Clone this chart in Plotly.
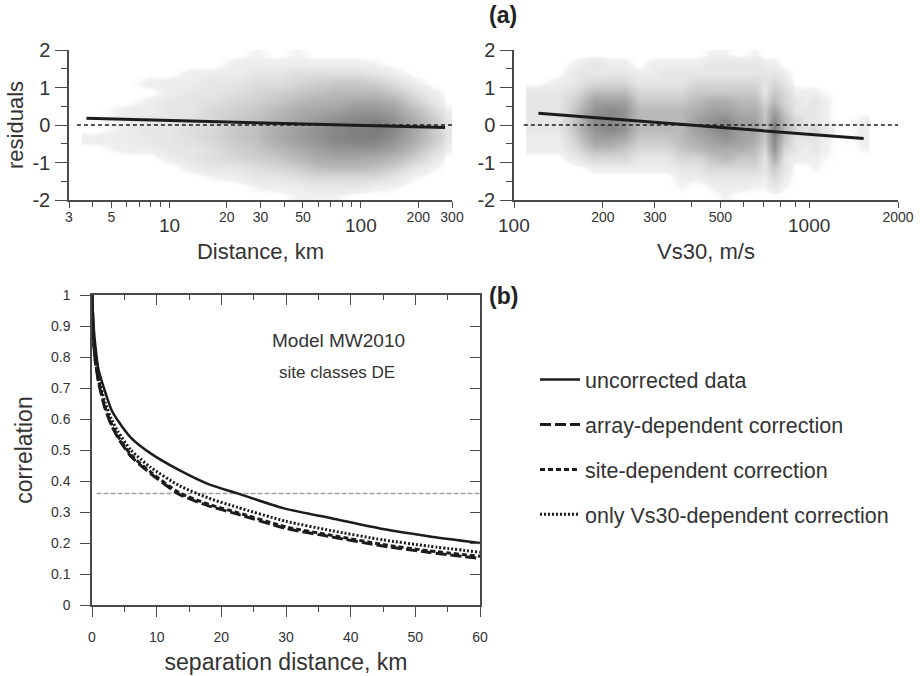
import plotly.graph_objects as go
import numpy as np

# ---------------- panel (a) data ----------------
dist_edges = [3.5, 5, 7, 9, 11.5, 15, 19.5, 25, 32, 41, 52, 66, 84, 107, 135, 170, 215, 265, 300]
resid_edges = [-2, -1.75, -1.5, -1.25, -1, -0.75, -0.5, -0.25, 0, 0.25, 0.5, 0.75, 1, 1.25, 1.5, 1.75, 2]
# estimated density of the residual crosses (rows: top y=+1.875 ... bottom y=-1.875)
dist_density = [
    [0, 0, 0, 0, 0, 0, 0, 0.3, 0, 0.3, 0, 0, 0, 0, 0, 0, 0, 0],
    [0, 0, 0, 0, 0, 0, 0.5, 0.5, 0.5, 0.5, 0.5, 0.5, 0.5, 0.3, 0, 0, 0, 0],
    [0, 0, 0, 0, 0.5, 0.5, 0.5, 1, 1, 1.5, 1.5, 1.5, 1.5, 1, 0.5, 0, 0, 0],
    [0, 0, 0.5, 0.5, 0.5, 1, 1, 1.5, 1.5, 2, 2.5, 3, 3, 2.5, 1.5, 0.5, 0, 0],
    [0, 0, 0, 0.5, 1, 1, 1.5, 2, 2.5, 3, 3.5, 4, 4, 4, 3, 1.5, 0.5, 0],
    [0, 0, 0.5, 1, 1, 1.5, 2, 2.5, 3, 4, 4.5, 5, 5.5, 5.5, 4.5, 2.5, 1, 0],
    [0, 0.5, 0.5, 1, 1, 2, 2.5, 3, 4, 5, 5.5, 6, 7, 7, 6, 4, 2, 0.5],
    [0, 0.5, 1, 1, 1.5, 2, 3, 3.5, 4.5, 5.5, 6.5, 7.5, 8, 8.5, 7, 5, 3, 1],
    [0, 0.5, 1, 1, 1.5, 2, 3, 3.5, 5, 6, 7, 8, 8.5, 9, 8, 5.5, 3, 1],
    [0.5, 0.5, 1, 1, 1.5, 2, 3, 3.5, 5, 6, 7, 8, 8.5, 8.5, 7, 5, 3, 1],
    [0, 0.5, 0.5, 1, 1, 1.5, 2.5, 3, 4, 5, 6, 7, 7, 7, 6, 4, 2, 0.5],
    [0, 0, 0, 0.5, 1, 1.5, 2, 2.5, 3, 4, 5, 5.5, 5.5, 5, 4, 2.5, 1, 0],
    [0, 0, 0, 0, 0.5, 1, 1, 1.5, 2, 2.5, 3.5, 4, 4, 3.5, 2.5, 1, 0.3, 0],
    [0, 0, 0, 0, 0, 0.3, 0.5, 1, 1, 1.5, 2, 2, 2, 2, 1, 0.3, 0, 0],
    [0, 0, 0, 0, 0, 0, 0, 0.3, 0.5, 0.5, 1, 1, 1, 0.5, 0.3, 0, 0, 0],
    [0, 0, 0, 0, 0, 0, 0, 0, 0, 0.3, 0.3, 0.3, 0, 0, 0, 0, 0, 0],
]
dist_fit_x = [3.7, 276]
dist_fit_y = [0.18, -0.07]
dist_zero_x = [3.3, 300]

vs_edges = [110, 130, 155, 175, 200, 225, 250, 280, 310, 350, 390, 440, 490, 550, 620, 680,
            730, 790, 860, 940, 1000, 1100, 1450, 1600]
vs_density = [
    [0, 0, 0, 0, 0, 0, 0, 0, 0, 0, 0, 0.3, 0.3, 0, 0.3, 0, 0, 0, 0, 0, 0, 0, 0],
    [0, 0, 0.5, 1, 0.5, 0.5, 0, 0.5, 0.5, 0.5, 0.5, 1, 1, 1, 1, 0.5, 0.5, 0, 0, 0, 0, 0, 0],
    [0, 0, 1, 1, 1, 1, 0.5, 0.5, 1, 1, 1, 1, 1, 1, 1, 1, 1, 0.5, 0, 0, 0, 0, 0],
    [0, 0.5, 1, 2, 2, 2, 1, 1, 1, 1, 2, 2, 2, 2, 2, 1, 2, 1, 0, 0, 0, 0, 0],
    [1, 1, 2, 4, 4, 4, 2, 2, 2, 2, 3, 3, 3, 3, 3, 1, 3, 2, 0.5, 0.5, 0.5, 0, 0],
    [1, 1, 3, 6, 6, 6, 3, 3, 3, 3, 4, 5, 5, 4, 4, 2, 4, 2, 1, 0.5, 1, 0, 0],
    [1, 1, 4, 7, 8, 7, 4, 4, 4, 4, 5, 6, 6, 5, 5, 3, 6, 3, 1, 1, 1, 0, 0],
    [1, 1, 4, 8, 8, 7, 4, 4, 4, 4, 6, 7, 8, 6, 6, 3, 8, 4, 2, 1, 1, 0, 0.5],
    [1, 1, 4, 7, 8, 7, 4, 4, 4, 4, 6, 7, 8, 6, 6, 3, 9, 4, 2, 1, 2, 0, 0.5],
    [0.5, 0.5, 3, 6, 6, 5, 3, 3, 3, 4, 5, 6, 7, 6, 5, 3, 8, 3, 1, 1, 1, 0, 0.5],
    [0.5, 0.5, 2, 4, 4, 3, 2, 2, 2, 3, 4, 5, 5, 5, 4, 2, 7, 2, 1, 0.5, 1, 0, 0.3],
    [0, 0, 1, 2, 2, 2, 1, 1, 1, 2, 2, 3, 4, 3, 3, 1, 5, 1, 0.5, 0.5, 0.5, 0, 0],
    [0, 0, 0, 0.5, 0.5, 0.5, 0.5, 0.5, 0.5, 1, 1, 2, 2, 2, 2, 1, 3, 1, 0, 0, 0.3, 0, 0],
    [0, 0, 0, 0, 0, 0, 0, 0, 0, 0.5, 0.5, 1, 1, 1, 1, 0.5, 2, 0.5, 0, 0, 0, 0, 0],
    [0, 0, 0, 0, 0, 0, 0, 0, 0, 0.3, 0, 0.3, 0.5, 0.5, 0.3, 0.3, 1, 0.3, 0, 0, 0, 0, 0],
    [0, 0, 0, 0, 0, 0, 0, 0, 0, 0, 0, 0, 0.3, 0, 0, 0, 0, 0, 0, 0, 0, 0, 0],
]
vs_fit_x = [121, 1530]
vs_fit_y = [0.31, -0.36]
vs_zero_x = [108, 2000]

resid_ticks = [-2, -1, 0, 1, 2]
resid_tick_text = ["-2", "-1", "0", "1", "2"]
dist_major_ticks = [3, 5, 10, 20, 30, 50, 100, 200, 300]
dist_tick_text = ["3", "5", "", "20", "30", "50", "", "200", "300"]
dist_minor_ticks = [4, 6, 7, 8, 9, 40, 60, 70, 80, 90]
dist_big_labels = [10, 100]
vs_major_ticks = [100, 200, 300, 500, 1000, 2000]
vs_tick_text = ["", "200", "300", "500", "", "2000"]
vs_minor_ticks = [400, 600, 700, 800, 900]
vs_big_labels = [100, 1000]

# ---------------- panel (b) data ----------------
sep_km = [0, 0.25, 0.5, 1, 2, 3, 4, 6, 9, 13.5, 18, 22.5, 30, 37, 45, 52, 60]
corr_uncorrected = [1.0, 0.90, 0.84, 0.76, 0.69, 0.63, 0.595, 0.54, 0.49, 0.435, 0.39, 0.36, 0.31, 0.28, 0.245, 0.222, 0.20]
corr_array = [1.0, 0.85, 0.79, 0.72, 0.635, 0.58, 0.54, 0.48, 0.425, 0.357, 0.32, 0.293, 0.247, 0.22, 0.19, 0.17, 0.15]
corr_site = [1.0, 0.85, 0.79, 0.725, 0.64, 0.585, 0.545, 0.485, 0.43, 0.362, 0.325, 0.298, 0.252, 0.225, 0.195, 0.175, 0.157]
corr_vs30 = [1.0, 0.86, 0.80, 0.735, 0.655, 0.60, 0.56, 0.50, 0.445, 0.385, 0.345, 0.315, 0.27, 0.24, 0.21, 0.19, 0.17]
threshold_x = [0.7, 60]
threshold_corr = 0.36

series_names = ["uncorrected data", "array-dependent correction",
                "site-dependent correction", "only Vs30-dependent correction"]

# ---------------- figure ----------------
W, H = 920, 676
FONT = "Liberation Sans, Arial, Helvetica, sans-serif"
AX = "#4a4a4a"
TXT = "#333333"
INK = "#1c1c1c"

def px_x(p):
    return p / W

def px_y(p):
    return 1 - p / H

grey_scale = [[0, "rgba(255,255,255,0)"], [0.03, "rgba(240,240,240,1)"],
              [0.4, "rgb(185,185,185)"], [1, "rgb(110,110,110)"]]

fig = go.Figure()

# scatter clouds (density estimate)
fig.add_trace(go.Heatmap(x=dist_edges, y=resid_edges, z=dist_density[::-1],
                         colorscale=grey_scale, zmin=0, zmax=10, showscale=False,
                         zsmooth="best", hoverinfo="skip", xaxis="x", yaxis="y"))
fig.add_trace(go.Heatmap(x=vs_edges, y=resid_edges, z=vs_density[::-1],
                         colorscale=grey_scale, zmin=0, zmax=10, showscale=False,
                         zsmooth="best", hoverinfo="skip", xaxis="x2", yaxis="y2"))

zero_style = dict(color=INK, width=1.6, dash="4px,3px")
fig.add_trace(go.Scatter(x=dist_zero_x, y=[0, 0], mode="lines", line=zero_style,
                         showlegend=False, hoverinfo="skip", xaxis="x", yaxis="y"))
fig.add_trace(go.Scatter(x=dist_fit_x, y=dist_fit_y, mode="lines", line=dict(color=INK, width=3),
                         showlegend=False, hoverinfo="skip", xaxis="x", yaxis="y"))
fig.add_trace(go.Scatter(x=vs_zero_x, y=[0, 0], mode="lines", line=zero_style,
                         showlegend=False, hoverinfo="skip", xaxis="x2", yaxis="y2"))
fig.add_trace(go.Scatter(x=vs_fit_x, y=vs_fit_y, mode="lines", line=dict(color=INK, width=3),
                         showlegend=False, hoverinfo="skip", xaxis="x2", yaxis="y2"))

# threshold line
fig.add_trace(go.Scatter(x=threshold_x, y=[threshold_corr] * 2, mode="lines",
                         line=dict(color="#a0a0a0", width=1.5, dash="5px,2px"),
                         showlegend=False, hoverinfo="skip", xaxis="x3", yaxis="y3"))

curves = [corr_uncorrected, corr_array, corr_site, corr_vs30]
dashes = ["solid", "11px,4px", "5px,3px", "2px,2px"]
widths = [2.5, 3, 3, 3]
for name, yv, d, w in zip(series_names, curves, dashes, widths):
    fig.add_trace(go.Scatter(x=sep_km, y=yv, mode="lines", name=name,
                             line=dict(color=INK, width=w, dash=d, shape="spline", smoothing=0.6),
                             legendgroup=name, xaxis="x3", yaxis="y3"))

# helper trace for the mirrored (inside-tick) frame axes
fig.add_trace(go.Scatter(x=[0, 60], y=[0, 1], mode="lines", line=dict(color="rgba(0,0,0,0)"),
                         showlegend=False, hoverinfo="skip", xaxis="x4", yaxis="y4"))

top_dom_y = [px_y(200), px_y(50)]
base_axis = dict(showgrid=False, zeroline=False, showline=True, linecolor=AX, linewidth=1.5,
                 tickcolor=AX, tickwidth=1.3, color=TXT, automargin=False)

fig.update_layout(
    template="none",
    width=W, height=H, margin=dict(l=0, r=0, t=0, b=0, autoexpand=False),
    paper_bgcolor="white", plot_bgcolor="rgba(0,0,0,0)",
    font=dict(family=FONT, color=TXT),
    xaxis=dict(**base_axis, type="log", domain=[px_x(69), px_x(452)], anchor="y",
               range=[np.log10(3), np.log10(300)], tickmode="array",
               tickvals=dist_major_ticks, ticktext=dist_tick_text,
               ticks="outside", ticklen=6, tickfont=dict(size=14), ticklabelstandoff=-3,
               minor=dict(tickmode="array", tickvals=dist_minor_ticks, ticks="outside",
                          ticklen=5, tickcolor=AX, tickwidth=1.2),
               title=dict(text="Distance, km", font=dict(size=22), standoff=20)),
    yaxis=dict(**base_axis, domain=top_dom_y, anchor="x", range=[-2, 2],
               tickmode="array", tickvals=resid_ticks, ticktext=resid_tick_text,
               ticks="outside", ticklen=12,
               tickfont=dict(size=20), ticklabelstandoff=1,
               minor=dict(dtick=0.5, ticks="outside", ticklen=6, tickcolor=AX, tickwidth=1.2),
               title=dict(text="residuals", font=dict(size=22), standoff=3)),
    xaxis2=dict(**base_axis, type="log", domain=[px_x(514), px_x(898)], anchor="y2",
                range=[2, np.log10(2000)], tickmode="array",
                tickvals=vs_major_ticks, ticktext=vs_tick_text,
                ticks="outside", ticklen=6, tickfont=dict(size=14), ticklabelstandoff=-3,
                minor=dict(tickmode="array", tickvals=vs_minor_ticks, ticks="outside",
                           ticklen=5, tickcolor=AX, tickwidth=1.2),
                title=dict(text="Vs30, m/s", font=dict(size=22), standoff=20)),
    yaxis2=dict(**base_axis, domain=top_dom_y, anchor="x2", range=[-2, 2],
                tickmode="array", tickvals=resid_ticks, ticktext=resid_tick_text,
                ticks="outside", ticklen=12,
                tickfont=dict(size=20), ticklabelstandoff=1,
                minor=dict(dtick=0.5, ticks="outside", ticklen=6, tickcolor=AX, tickwidth=1.2)),
    xaxis3=dict(**base_axis, domain=[px_x(92), px_x(480)], anchor="y3", range=[0, 60],
                dtick=10, ticks="outside", ticklen=10, tickfont=dict(size=14), ticklabelstandoff=8,
                minor=dict(dtick=5, ticks="outside", ticklen=5, tickcolor=AX, tickwidth=1.2),
                title=dict(text="separation distance, km", font=dict(size=23), standoff=10)),
    yaxis3=dict(**base_axis, domain=[px_y(605), px_y(295)], anchor="x3", range=[0, 1],
                dtick=0.1, ticks="outside", ticklen=10, tickfont=dict(size=14), ticklabelstandoff=7,
                title=dict(text="correlation", font=dict(size=23), standoff=12)),
    xaxis4=dict(**base_axis, overlaying="x3", anchor="y3", side="top", range=[0, 60],
                dtick=10, ticks="inside", ticklen=10, showticklabels=False,
                minor=dict(dtick=5, ticks="inside", ticklen=5, tickcolor=AX, tickwidth=1.2)),
    yaxis4=dict(**base_axis, overlaying="y3", anchor="x4", side="right", range=[0, 1],
                dtick=0.1, ticks="inside", ticklen=10, showticklabels=False),
    legend=dict(x=px_x(535), y=px_y(359), xanchor="left", yanchor="top",
                font=dict(size=21.5, color=TXT), bgcolor="rgba(0,0,0,0)",
                tracegroupgap=14, itemwidth=40),
    showlegend=True,
)

ann = []
for v in dist_big_labels:
    ann.append(dict(x=np.log10(v), y=px_y(213), xref="x", yref="paper", text=str(v),
                    showarrow=False, yanchor="top", font=dict(size=19, color=TXT)))
for v in vs_big_labels:
    ann.append(dict(x=np.log10(v), y=px_y(213), xref="x2", yref="paper", text=str(v),
                    showarrow=False, yanchor="top", font=dict(size=19, color=TXT)))
ann += [
    dict(x=px_x(503), y=px_y(15), xref="paper", yref="paper", text="<b>(a)</b>",
         showarrow=False, yanchor="middle", font=dict(size=23, color="#222")),
    dict(x=px_x(503), y=px_y(296), xref="paper", yref="paper", text="<b>(b)</b>",
         showarrow=False, yanchor="middle", font=dict(size=23, color="#222")),
    dict(x=px_x(338), y=px_y(340), xref="paper", yref="paper", text="Model MW2010",
         showarrow=False, yanchor="middle", font=dict(size=19, color=TXT)),
    dict(x=px_x(337), y=px_y(372), xref="paper", yref="paper", text="site classes DE",
         showarrow=False, yanchor="middle", font=dict(size=17, color=TXT)),
]
fig.update_layout(annotations=ann)

# remove the default page margin so the 920x676 figure fills the window exactly
fig.write_html("out.html", config={"displayModeBar": False},
               post_script="document.body.style.margin='0px';")
